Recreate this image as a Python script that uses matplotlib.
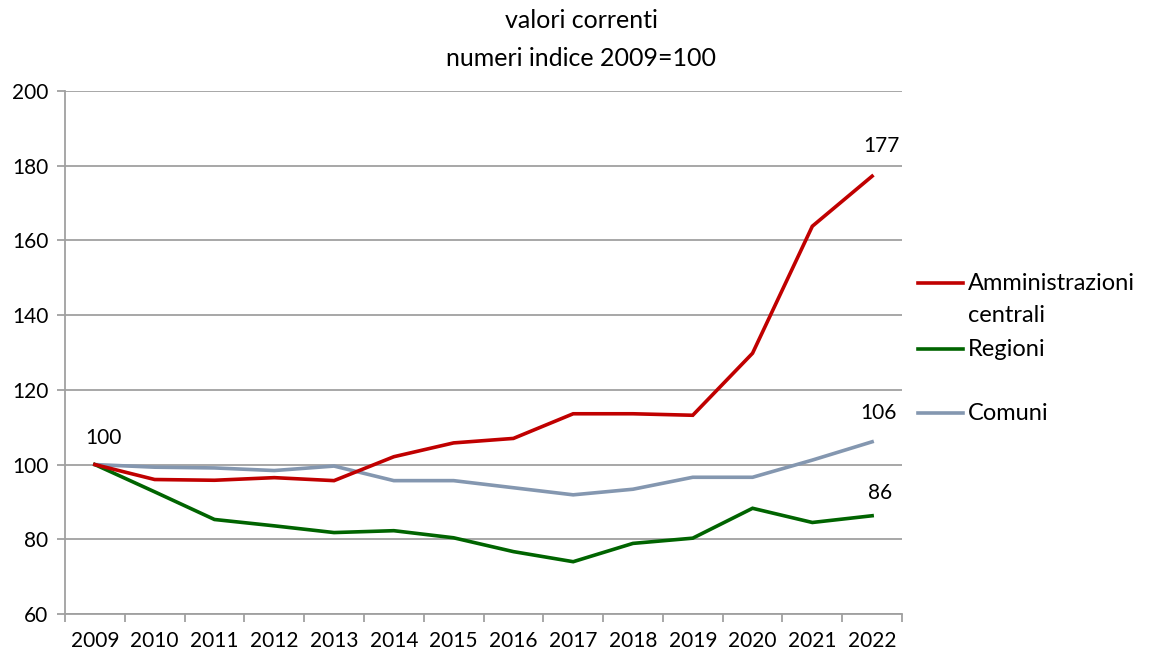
import matplotlib
matplotlib.use("Agg")
import matplotlib.pyplot as plt
from matplotlib.lines import Line2D

plt.rcParams['font.family'] = ['Lato', 'DejaVu Sans']

years = ["2009", "2010", "2011", "2012", "2013", "2014", "2015", "2016",
         "2017", "2018", "2019", "2020", "2021", "2022"]
amm_centrali = [100, 96.0, 95.8, 96.5, 95.7, 102.1, 105.8, 107.0,
                113.6, 113.6, 113.2, 129.8, 163.8, 177.2]
regioni = [100, 92.7, 85.3, 83.6, 81.8, 82.3, 80.4, 76.7,
           74.0, 78.9, 80.3, 88.3, 84.5, 86.3]
comuni = [100, 99.3, 99.1, 98.4, 99.6, 95.7, 95.7, 93.8,
          91.9, 93.4, 96.6, 96.6, 101.2, 106.1]
series_names = ["Amministrazioni\ncentrali", "Regioni", "Comuni"]
colors = ["#C00000", "#006400", "#8497B0"]
y_ticks = [60, 80, 100, 120, 140, 160, 180, 200]

fig = plt.figure(figsize=(11.52, 6.52), dpi=100)
ax = fig.add_axes([65/1152, 1-614/652, (902-65)/1152, (614-91)/652])

x = list(range(len(years)))
grid_c = "#A0A0A0"
for yv in y_ticks:
    ax.axhline(yv, color=grid_c, lw=1.3, zorder=1)

ax.plot(x, comuni, color=colors[2], lw=2.6, zorder=3, solid_joinstyle='miter')
ax.plot(x, regioni, color=colors[1], lw=2.6, zorder=3, solid_joinstyle='miter')
ax.plot(x, amm_centrali, color=colors[0], lw=2.6, zorder=3, solid_joinstyle='miter')

ax.set_xlim(-0.5, len(years) - 0.5)
ax.set_ylim(60, 200)
ax.set_yticks(y_ticks)
ax.set_yticklabels([str(v) for v in y_ticks], fontsize=15)
ax.set_xticks(x)
ax.set_xticklabels(years, fontsize=15)
ax.set_xticks([i - 0.5 for i in range(len(years) + 1)], minor=True)
ax.tick_params(axis='x', which='major', length=0, pad=12)
ax.tick_params(axis='x', which='minor', length=6, color=grid_c, width=1.3)
ax.tick_params(axis='y', length=6, color=grid_c, width=1.3, pad=6)

for s in ['top', 'right']:
    ax.spines[s].set_visible(False)
for s in ['left', 'bottom']:
    ax.spines[s].set_color(grid_c)
    ax.spines[s].set_linewidth(1.3)

# data labels
lab_fs = 15
ax.annotate("100", (0, comuni[0]), xytext=(6, 19), textcoords='offset points',
            ha='center', va='center', fontsize=lab_fs)
ax.annotate(f"{amm_centrali[-1]:.0f}", (13, amm_centrali[-1]), xytext=(6.5, 22),
            textcoords='offset points', ha='center', va='center', fontsize=lab_fs)
ax.annotate(f"{comuni[-1]:.0f}", (13, comuni[-1]), xytext=(4.5, 20.5),
            textcoords='offset points', ha='center', va='center', fontsize=lab_fs)
ax.annotate(f"{regioni[-1]:.0f}", (13, regioni[-1]), xytext=(6, 16.5),
            textcoords='offset points', ha='center', va='center', fontsize=lab_fs)

# title
fig.text(581/1152, 1-20/652, "valori correnti", ha='center', va='center', fontsize=18)
fig.text(581/1152, 1-58/652, "numeri indice 2009=100", ha='center', va='center', fontsize=18)

# legend (manual)
leg_y = [283, 349, 413]
for name, c, yy in zip(series_names, colors, leg_y):
    yf = 1 - yy/652
    fig.add_artist(Line2D([918/1152, 963/1152], [yf, yf], color=c, lw=2.6,
                          transform=fig.transFigure))
    lines = name.split('\n')
    for k, line in enumerate(lines):
        fig.text(968/1152, 1 - (yy + 33*k)/652, line, ha='left', va='center',
                 fontsize=17)

fig.savefig("out.png", dpi=100)
